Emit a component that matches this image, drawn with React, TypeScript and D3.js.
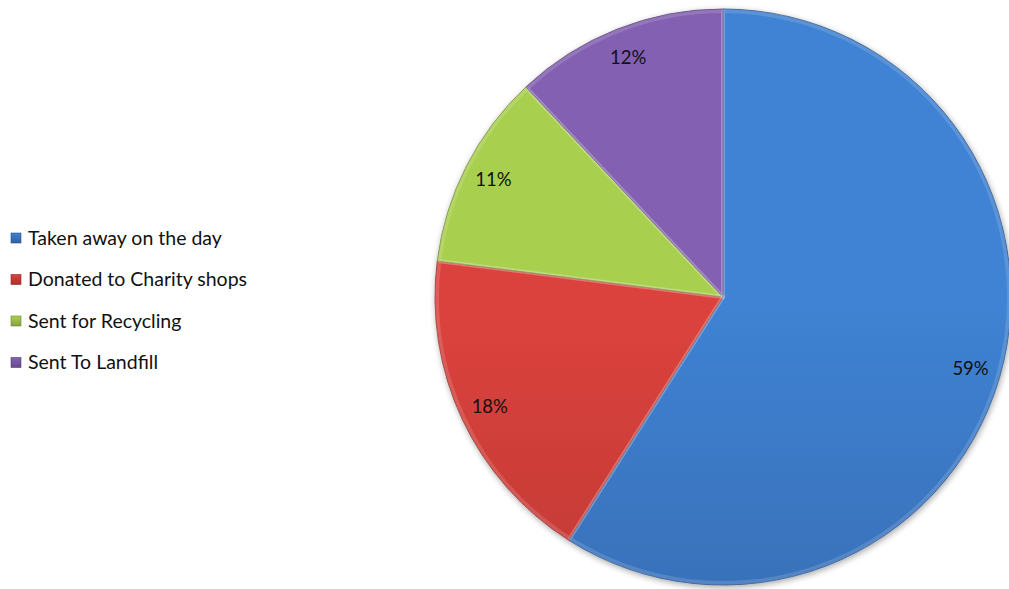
import React, { useRef, useEffect } from 'react';
import * as d3 from 'd3';

const categories = ['Taken away on the day', 'Donated to Charity shops', 'Sent for Recycling', 'Sent To Landfill'];
const values = [59, 18, 11, 12];
const labels = ['59%', '18%', '11%', '12%'];
const topColors = ['#3f82d3', '#dc433d', '#a9cf4f', '#8360b2'];
const bottomColors = ['#3260a0', '#a9302d', '#86a33f', '#674889'];

const App: React.FC = () => {
    const svgRef = useRef<SVGSVGElement>(null);

    useEffect(() => {
        if (!svgRef.current) return;

        const width = 1009;
        const height = 589;
        const cx = 723;
        const cy = 297;
        const radius = 288;

        d3.select(svgRef.current).selectAll('*').remove();

        const svg = d3.select(svgRef.current)
            .attr('width', width)
            .attr('height', height);

        const defs = svg.append('defs');

        const shadow = defs.append('filter')
            .attr('id', 'pieShadow')
            .attr('x', '-10%').attr('y', '-10%')
            .attr('width', '120%').attr('height', '120%');
        shadow.append('feGaussianBlur').attr('in', 'SourceAlpha').attr('stdDeviation', 3).attr('result', 'blur');
        shadow.append('feOffset').attr('in', 'blur').attr('dx', 1).attr('dy', 2).attr('result', 'off');
        shadow.append('feComponentTransfer').attr('in', 'off').attr('result', 'soft')
            .append('feFuncA').attr('type', 'linear').attr('slope', 0.35);
        const merge = shadow.append('feMerge');
        merge.append('feMergeNode').attr('in', 'soft');
        merge.append('feMergeNode').attr('in', 'SourceGraphic');

        categories.forEach((_, i) => {
            const g = defs.append('linearGradient')
                .attr('id', `grad${i}`)
                .attr('gradientUnits', 'userSpaceOnUse')
                .attr('x1', 0).attr('y1', cy - radius)
                .attr('x2', 0).attr('y2', cy + radius);
            g.append('stop').attr('offset', '0%').attr('stop-color', topColors[i]);
            g.append('stop').attr('offset', '100%').attr('stop-color', bottomColors[i]);

            const lg = defs.append('linearGradient')
                .attr('id', `lgrad${i}`)
                .attr('x1', 0).attr('y1', 0).attr('x2', 0).attr('y2', 1);
            lg.append('stop').attr('offset', '0%').attr('stop-color', topColors[i]);
            lg.append('stop').attr('offset', '100%').attr('stop-color', bottomColors[i]);
        });

        const pie = d3.pie<number>()
            .value(d => d)
            .sort(null);

        const arc = d3.arc<d3.PieArcDatum<number>>()
            .innerRadius(0)
            .outerRadius(radius);

        const bevel = d3.arc<d3.PieArcDatum<number>>()
            .innerRadius(0)
            .outerRadius(radius - 2);

        const labelArc = d3.arc<d3.PieArcDatum<number>>()
            .innerRadius(radius * 0.895)
            .outerRadius(radius * 0.895);

        const pieG = svg.append('g')
            .attr('transform', `translate(${cx},${cy})`);

        const arcs = pie(values);

        const slices = pieG.append('g').attr('filter', 'url(#pieShadow)');

        slices.selectAll('path.slice')
            .data(arcs)
            .enter()
            .append('path')
            .attr('class', 'slice')
            .attr('d', arc)
            .attr('fill', (d, i) => `url(#grad${i})`)
            .attr('stroke', (d, i) => d3.color(bottomColors[i])!.darker(0.6).formatHex())
            .attr('stroke-width', 0.8);

        // soft bevel highlight along the slice edges
        pieG.selectAll('path.bevel')
            .data(arcs)
            .enter()
            .append('path')
            .attr('class', 'bevel')
            .attr('d', bevel)
            .attr('fill', 'none')
            .attr('stroke', 'white')
            .attr('stroke-opacity', 0.14)
            .attr('stroke-width', 4)
            .attr('stroke-linejoin', 'round');

        pieG.selectAll('text.lbl')
            .data(arcs)
            .enter()
            .append('text')
            .attr('class', 'lbl')
            .attr('transform', d => `translate(${labelArc.centroid(d)})`)
            .attr('dy', '0.35em')
            .attr('text-anchor', 'middle')
            .style('font-family', 'Lato, "Noto Sans", sans-serif')
            .style('font-size', '18.5px')
            .attr('fill', '#111')
            .text((d, i) => labels[i]);

        const legend = svg.append('g')
            .attr('transform', 'translate(11,238)');

        const rows = legend.selectAll('g.row')
            .data(categories)
            .enter()
            .append('g')
            .attr('class', 'row')
            .attr('transform', (d, i) => `translate(0,${i * 41.5})`);

        rows.append('rect')
            .attr('x', 0)
            .attr('y', -5)
            .attr('width', 10)
            .attr('height', 10)
            .attr('fill', (d, i) => `url(#lgrad${i})`)
            .attr('stroke', (d, i) => d3.color(bottomColors[i])!.darker(0.5).formatHex())
            .attr('stroke-width', 0.6);

        rows.append('text')
            .attr('x', 17)
            .attr('dy', '0.35em')
            .style('font-family', 'Lato, "Noto Sans", sans-serif')
            .style('font-size', '19.5px')
            .attr('fill', '#111')
            .text(d => d);
    }, []);

    return (
        <svg ref={svgRef} style={{ position: 'absolute', left: 0, top: 0, display: 'block' }}></svg>
    );
};

export default App;
